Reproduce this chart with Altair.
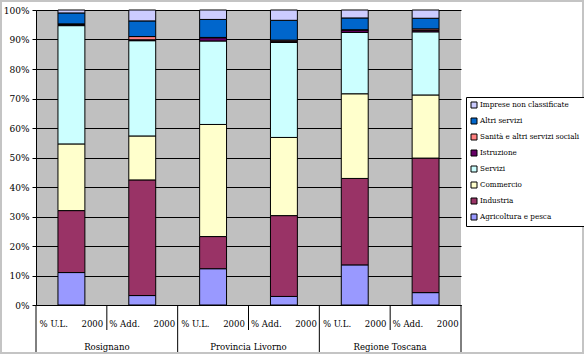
import altair as alt
import pandas as pd

groups = ["Rosignano", "Provincia Livorno", "Regione Toscana"]
measures = ["% U.L.", "% Add."]
year = "2000"

sectors = ["Agricoltura e pesca", "Industria", "Commercio", "Servizi",
           "Istruzione", "Sanità e altri servizi sociali", "Altri servizi",
           "Imprese non classificate"]
colors = ["#9999FF", "#993366", "#FFFFCC", "#CCFFFF",
          "#660066", "#FF8080", "#0066CC", "#CCCCFF"]

# values per bar: Rosignano UL, Rosignano Add, Livorno UL, Livorno Add, Toscana UL, Toscana Add
agricoltura = [11.0, 3.2, 12.3, 2.9, 13.6, 4.2]
industria = [21.0, 39.2, 10.9, 27.4, 29.3, 45.6]
commercio = [22.6, 14.9, 38.0, 26.5, 28.7, 21.4]
servizi = [40.1, 32.3, 28.3, 32.2, 20.8, 21.4]
istruzione = [0.4, 0.3, 1.1, 0.4, 0.8, 0.5]
sanita = [0.2, 1.1, 0.1, 0.4, 0.1, 0.5]
altri_servizi = [3.7, 5.3, 6.1, 6.7, 4.0, 3.6]
imprese = [1.0, 3.7, 3.2, 3.5, 2.7, 2.8]

series = [agricoltura, industria, commercio, servizi, istruzione, sanita,
          altri_servizi, imprese]

bar_keys, bar_subs, bar_groups = [], [], []
for g in groups:
    for m in measures:
        bar_keys.append(g + "|" + m)
        bar_subs.append(m + "\u00a0" * 5 + year)
        bar_groups.append(g)

rows = []
for si, (s, vals) in enumerate(zip(sectors, series)):
    for bi, k in enumerate(bar_keys):
        rows.append({"bar": k, "sector": s, "idx": si, "value": vals[bi]})
df = pd.DataFrame(rows)

legend_order = sectors[::-1]
legend_colors = colors[::-1]

serif_c = "DejaVu Serif Condensed"
xscale = alt.Scale(domain=bar_keys, paddingInner=0, paddingOuter=0)

bars = alt.Chart(df).mark_bar(
    width={"band": 0.38}, stroke="black", strokeWidth=1
).encode(
    x=alt.X("bar:N", scale=xscale, sort=bar_keys,
            axis=alt.Axis(labels=False, ticks=False, title=None,
                          domain=True, domainColor="black", grid=False)),
    y=alt.Y("value:Q", stack="normalize",
            scale=alt.Scale(domain=[0, 1], nice=False),
            axis=alt.Axis(values=[i / 10 for i in range(11)], format=".0%",
                          title=None, grid=True, gridColor="black",
                          gridOpacity=1, domainColor="black",
                          tickColor="black", tickSize=4,
                          labelFont=serif_c, labelFontSize=10,
                          labelColor="black", labelPadding=3)),
    color=alt.Color("sector:N",
                    scale=alt.Scale(domain=legend_order, range=legend_colors),
                    legend=alt.Legend(
                        title=None, orient="none", legendX=430, legendY=87,
                        fillColor="white", strokeColor="black", padding=4,
                        symbolType="square", symbolSize=36,
                        symbolStrokeColor="black", symbolStrokeWidth=1,
                        labelFont=serif_c, labelFontSize=8, labelColor="black",
                        rowPadding=6, labelLimit=300, symbolOffset=0,
                        labelOffset=2)),
    order=alt.Order("idx:Q", sort="ascending"),
)

sub_df = pd.DataFrame({"bar": bar_keys, "sub": bar_subs})
sub_text = alt.Chart(sub_df).mark_text(
    font=serif_c, fontSize=9.5, color="black", baseline="middle"
).encode(
    x=alt.X("bar:N", scale=xscale, sort=bar_keys),
    y=alt.value(313.5),
    text="sub:N",
)

grp_df = pd.DataFrame({"bar": bar_keys[0::2], "grp": groups})
grp_text = alt.Chart(grp_df).mark_text(
    font=serif_c, fontSize=9.5, color="black", baseline="middle"
).encode(
    x=alt.X("bar:N", scale=xscale, sort=bar_keys, bandPosition=1),
    y=alt.value(336.5),
    text="grp:N",
)

short_df = pd.DataFrame({"bar": bar_keys[1::2]})
short_rules = alt.Chart(short_df).mark_rule(color="black", strokeWidth=1).encode(
    x=alt.X("bar:N", scale=xscale, sort=bar_keys, bandPosition=0),
    y=alt.value(295), y2=alt.value(320),
)

long_df = pd.DataFrame({"bar": bar_keys[0::2]})
long_rules = alt.Chart(long_df).mark_rule(color="black", strokeWidth=1).encode(
    x=alt.X("bar:N", scale=xscale, sort=bar_keys, bandPosition=0),
    y=alt.value(295), y2=alt.value(343),
)

end_df = pd.DataFrame({"bar": bar_keys[-1:]})
end_rule = alt.Chart(end_df).mark_rule(color="black", strokeWidth=1).encode(
    x=alt.X("bar:N", scale=xscale, sort=bar_keys, bandPosition=1),
    y=alt.value(295), y2=alt.value(343),
)

frame = alt.Chart(end_df).mark_rect(
    fill=None, stroke="#C4C4C4", strokeWidth=2, clip=False
).encode(
    x=alt.value(-35), x2=alt.value(547), y=alt.value(-9), y2=alt.value(343),
)

chart = alt.layer(
    bars, sub_text, grp_text, short_rules, long_rules, end_rule, frame
).properties(
    width=425, height=295,
    autosize=alt.AutoSizeParams(type="none"),
    padding={"left": 36, "top": 10, "right": 123, "bottom": 49},
    background="white",
).configure_view(
    stroke=None, fill="#C0C0C0"
)

chart.save("out.html", embed_options={"renderer": "svg", "actions": False})
